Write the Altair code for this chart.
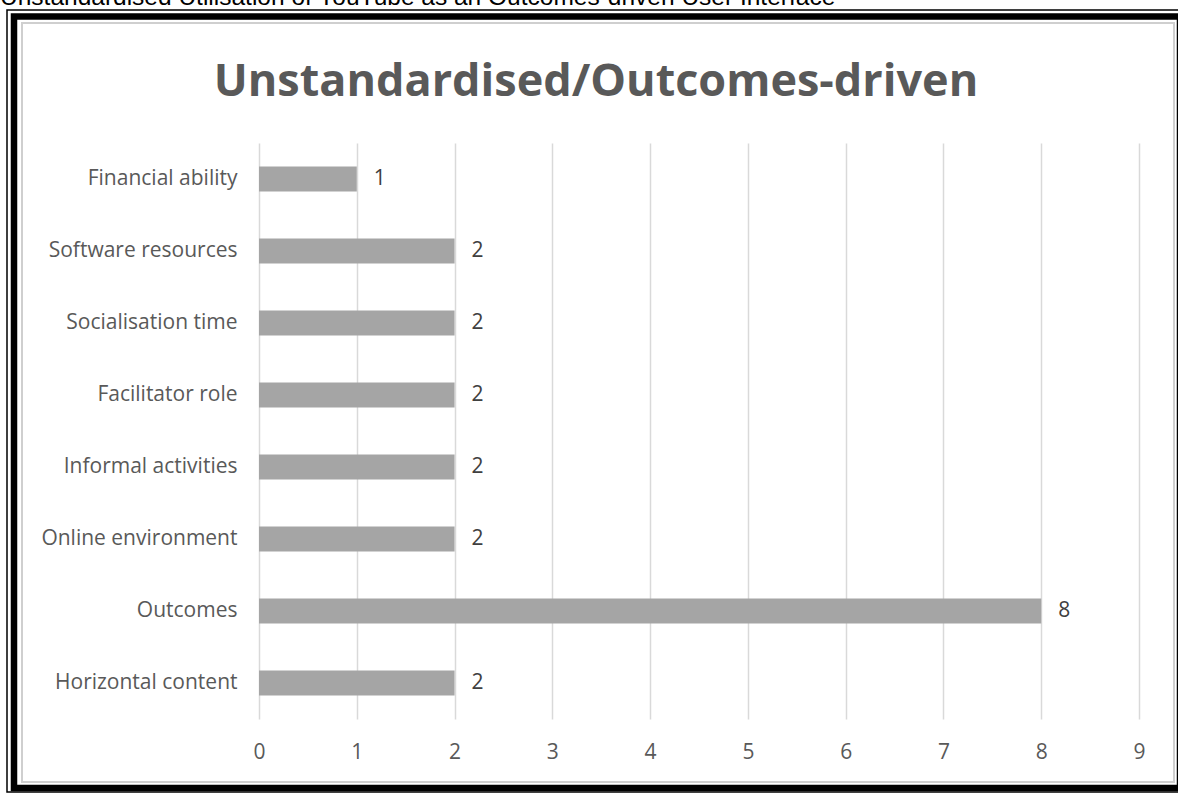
import altair as alt
import pandas as pd

categories = ["Financial ability", "Software resources", "Socialisation time", "Facilitator role",
              "Informal activities", "Online environment", "Outcomes", "Horizontal content"]
values = [1, 2, 2, 2, 2, 2, 8, 2]
x_ticks = [0, 1, 2, 3, 4, 5, 6, 7, 8, 9]
chart_title = "Unstandardised/Outcomes-driven"
caption = "Unstandardised Utilisation of YouTube as an Outcomes-driven User Interface"

df = pd.DataFrame({"category": categories, "value": values})
one = pd.DataFrame({"a": [0]})

FONT = "Open Sans"
GRAY = "#595959"

# plot area origin at (259, 143) in page pixels
OX, OY = 259, 143

def frame(x, y, x2, y2, color, sw):
    return alt.Chart(one).mark_rect(fill=None, stroke=color, strokeWidth=sw).encode(
        x=alt.value(x - OX), y=alt.value(y - OY), x2=alt.value(x2 - OX), y2=alt.value(y2 - OY)
    )

outer_thin = frame(7, 10, 1186, 792, "black", 1.5)
outer_thick = frame(14, 16.5, 1180, 788, "black", 6.5)
inner_gray = frame(22, 23, 1174, 782, "#cfcfcf", 2)

cap = alt.Chart(one).mark_text(text=caption, font="Liberation Sans", fontSize=24.5, color="black",
                               align="left", baseline="alphabetic").encode(
    x=alt.value(0 - OX), y=alt.value(5 - OY))

ttl = alt.Chart(one).mark_text(text=chart_title, font=FONT, fontSize=45, fontWeight="bold",
                               color=GRAY, align="center", baseline="alphabetic").encode(
    x=alt.value(596 - OX), y=alt.value(96 - OY))

yenc = alt.Y("category:N", sort=categories, title=None,
             scale=alt.Scale(paddingInner=0.65, paddingOuter=0.325),
             axis=alt.Axis(domain=False, ticks=False, labelFont=FONT, labelFontSize=21,
                           labelColor=GRAY, labelPadding=22, labelLimit=400, grid=False))
xenc = alt.X("value:Q", title=None, scale=alt.Scale(domain=[0, 9], nice=False),
             axis=alt.Axis(values=x_ticks, domain=False, ticks=False, labelFont=FONT,
                           labelFontSize=21, labelColor=GRAY, labelPadding=22, labelFlush=False,
                           grid=True, gridColor="#d9d9d9", gridWidth=1.5, format="d"))

bars = alt.Chart(df).mark_bar(color="#a5a5a5").encode(x=xenc, y=yenc)
labels = alt.Chart(df).mark_text(align="left", baseline="middle", dx=17, font=FONT,
                                 fontSize=21, color="#404040").encode(
    x=alt.X("value:Q"), y=alt.Y("category:N", sort=categories), text="value:Q")

chart = alt.layer(outer_thin, outer_thick, inner_gray, cap, ttl, bars, labels).properties(
    width=880, height=576,
    autosize=alt.AutoSizeParams(type="none"),
    padding={"left": OX, "top": OY, "right": 1178 - OX - 880, "bottom": 793 - OY - 576},
    background="white",
).configure_view(stroke=None)

chart.save("out.html", embed_options={"renderer": "svg", "actions": False})
